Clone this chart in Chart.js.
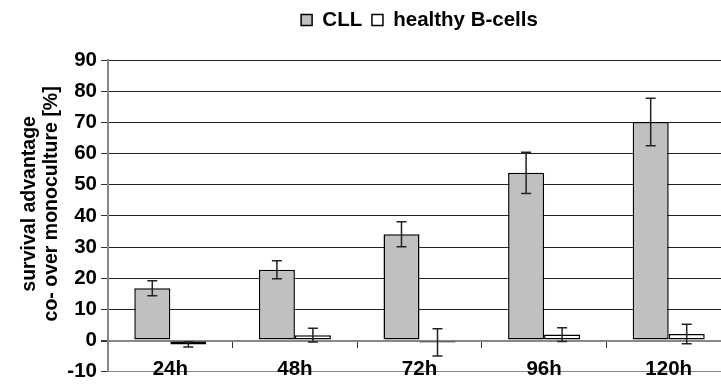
<!DOCTYPE html>
<html>
<head>
<meta charset="utf-8">
<script src="https://cdn.jsdelivr.net/npm/chart.js@4/dist/chart.umd.min.js"></script>
<style>
html, body { margin: 0; padding: 0; background: #fff; overflow: hidden; }
canvas { display: block; }
</style>
</head>
<body>
<canvas id="c" width="731" height="388"></canvas>
<script>
const categories = ['24h', '48h', '72h', '96h', '120h'];
const cllValues = [16.8, 22.7, 34.1, 53.8, 70.1];
const cllErrors = [2.4, 2.9, 4.0, 6.6, 7.6];
const healthyValues = [-1.3, 1.7, -0.6, 1.9, 2.1];
const healthyErrors = [0.8, 2.2, 4.4, 2.2, 3.1];
const seriesNames = ['CLL', 'healthy B-cells'];
const yTitle = ['survival advantage', 'co- over monoculture [%]'];

const FONT = 'Liberation Sans, Arial, sans-serif';

const errorBars = {
  id: 'errorBars',
  afterDatasetsDraw(chart) {
    const ctx = chart.ctx;
    const y = chart.scales.y;
    chart.data.datasets.forEach((ds, di) => {
      const meta = chart.getDatasetMeta(di);
      meta.data.forEach((bar, i) => {
        const v = ds.data[i], e = ds.errors[i];
        const yTop = y.getPixelForValue(v + e);
        const yBot = y.getPixelForValue(v - e);
        ctx.save();
        ctx.strokeStyle = '#222';
        ctx.lineWidth = 1.5;
        ctx.beginPath();
        ctx.moveTo(bar.x, yTop); ctx.lineTo(bar.x, yBot);
        ctx.moveTo(bar.x - 5, yTop); ctx.lineTo(bar.x + 5, yTop);
        ctx.moveTo(bar.x - 5, yBot); ctx.lineTo(bar.x + 5, yBot);
        ctx.stroke();
        ctx.restore();
      });
    });
  }
};

const layoutTweaks = {
  id: 'layoutTweaks',
  beforeLayout(chart) {
    const lg = chart.legend;
    if (lg && !lg._patched) {
      const f = lg.fit.bind(lg);
      lg.fit = function () { f(); this.height = 60; };
      lg._patched = true;
    }
    const ys = chart.scales.y;
    if (ys && !ys._patched) {
      const d = ys.drawTitle.bind(ys);
      ys.drawTitle = function () {
        const ctx = this.ctx;
        ctx.save();
        ctx.translate(0, -12);
        d();
        ctx.restore();
      };
      ys._patched = true;
    }
  }
};

new Chart(document.getElementById('c'), {
  type: 'bar',
  data: {
    labels: categories,
    datasets: [
      {
        label: seriesNames[0],
        data: cllValues,
        errors: cllErrors,
        backgroundColor: '#c0c0c0',
        borderColor: '#000',
        borderWidth: 1.5,
        borderSkipped: false
      },
      {
        label: seriesNames[1],
        data: healthyValues,
        errors: healthyErrors,
        backgroundColor: '#ffffff',
        borderColor: '#000',
        borderWidth: 1.5,
        borderSkipped: false
      }
    ]
  },
  options: {
    responsive: false,
    animation: false,
    devicePixelRatio: 1,
    categoryPercentage: 0.578,
    barPercentage: 1.0,
    layout: { padding: { left: 0, right: 0, top: 0, bottom: 11 } },
    plugins: {
      legend: {
        position: 'top',
        fullSize: false,
        labels: {
          boxWidth: 11,
          boxHeight: 11,
          padding: 9.75,
          color: '#000',
          font: { family: FONT, size: 20.5, weight: 'bold' }
        }
      },
      tooltip: { enabled: false }
    },
    scales: {
      x: {
        position: { y: 0 },
        offset: true,
        grid: {
          offset: true,
          drawOnChartArea: false,
          drawTicks: true,
          tickLength: 6,
          tickColor: '#333',
          tickWidth: 1
        },
        border: { display: true, color: '#888', width: 2 },
        ticks: {
          color: '#000',
          padding: 11,
          font: { family: FONT, size: 20.5, weight: 'bold' }
        }
      },
      y: {
        min: -10,
        max: 90,
        afterFit(scale) { scale.width = 108; },
        ticks: {
          stepSize: 10,
          color: '#000',
          padding: 4,
          font: { family: FONT, size: 20.5, weight: 'bold' }
        },
        grid: {
          color: (c) => (c.tick && c.tick.value <= 0) ? '#888' : '#222',
          lineWidth: (c) => (c.tick && c.tick.value === 0) ? 2 : 1,
          tickColor: '#333',
          tickLength: 7
        },
        border: { display: true, color: '#888', width: 2 },
        title: {
          display: true,
          text: yTitle,
          color: '#000',
          padding: { top: 19, bottom: 0 },
          font: { family: FONT, size: 19.5, weight: 'bold', lineHeight: 1.13 }
        }
      }
    }
  },
  plugins: [errorBars, layoutTweaks]
});
</script>
</body>
</html>
